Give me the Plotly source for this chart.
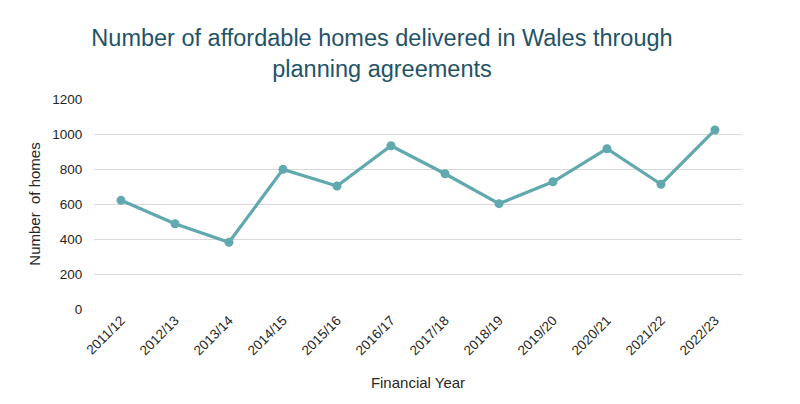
import plotly.graph_objects as go

years = ["2011/12", "2012/13", "2013/14", "2014/15", "2015/16", "2016/17",
         "2017/18", "2018/19", "2019/20", "2020/21", "2021/22", "2022/23"]
homes = [621, 487, 381, 798, 703, 933, 773, 602, 727, 916, 713, 1023]
y_ticks = [0, 200, 400, 600, 800, 1000, 1200]

fig = go.Figure()
fig.add_trace(go.Scatter(
    x=years, y=homes, mode="lines+markers",
    line=dict(color="#62A8AF", width=3.2),
    marker=dict(color="#62A8AF", size=9),
    showlegend=False,
))

fig.update_layout(
    width=800, height=404,
    paper_bgcolor="white", plot_bgcolor="white",
    margin=dict(l=94, r=58, t=99, b=95),
    font=dict(family="Liberation Sans, Arial, sans-serif", color="#404040"),
    title=dict(
        text="Number of affordable homes delivered in Wales through<br>planning agreements",
        x=382/800, xanchor="center", y=1 - 46/404, yanchor="middle",
        font=dict(size=23.5, color="#1F5369", family="Liberation Sans, Arial, sans-serif"),
    ),
)
fig.update_xaxes(
    type="category", tickangle=-45, tickfont=dict(size=13.5, color="#262626"),
    showgrid=False, showline=False, zeroline=False,
    title=dict(text="Financial Year", font=dict(size=15, color="#262626"), standoff=20),
    range=[-0.5, 11.5],
)
fig.update_yaxes(
    range=[0, 1200], tickvals=y_ticks, tickfont=dict(size=13.5, color="#262626"),
    showgrid=True, gridcolor="#D9D9D9", gridwidth=1, zeroline=False, showline=False,
    ticks="outside", ticklen=8, tickcolor="white",
    title=dict(text="Number  of homes", font=dict(size=15, color="#262626"), standoff=8),
)

fig.write_html("out.html", config={"displayModeBar": False},
               post_script="document.body.style.margin='0';")
